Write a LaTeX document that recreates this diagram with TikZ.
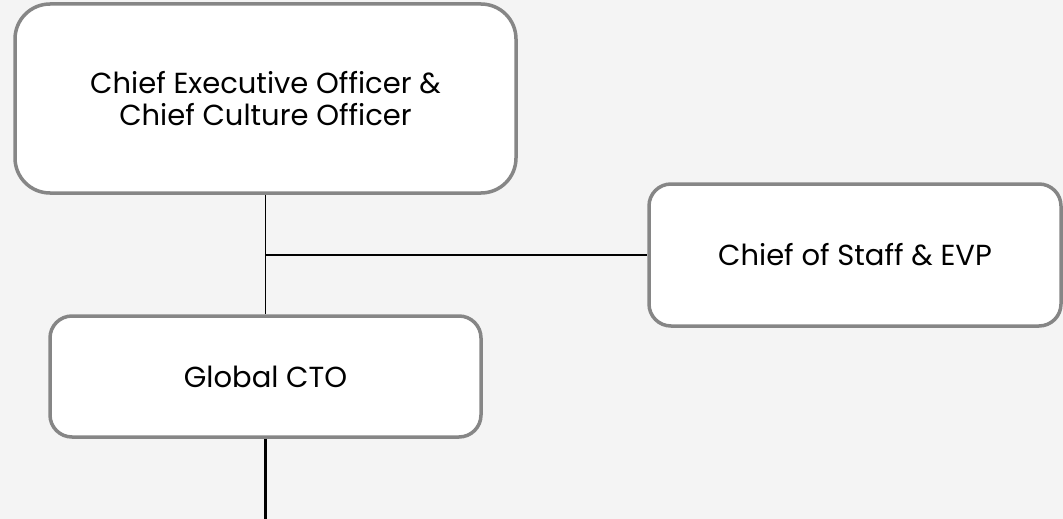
\documentclass[tikz,border=0pt]{standalone}
\usepackage{fontspec}
\setmainfont{Poppins}
\definecolor{pagebg}{HTML}{F4F4F4}
\definecolor{boxline}{HTML}{868686}

\begin{document}
\begin{tikzpicture}[x=1pt,y=-1pt,
    box/.style={draw=boxline, line width=3.5pt, fill=white, align=center,
      inner sep=0pt, font=\fontsize{29}{32}\selectfont},
    link/.style={draw=black, line width=1.8pt}
    ]
    \fill[pagebg] (0,0) rectangle (1063,519);
    \useasboundingbox (0,0) rectangle (1063,519);

    \node[box, rounded corners=35pt, minimum width=501pt, minimum height=189pt]
      (ceo) at (265.5,98.5) {Chief Executive Officer \&\\Chief Culture Officer};
    \node[box, rounded corners=22pt, minimum width=412pt, minimum height=142pt]
      (cos) at (855,255) {Chief of Staff \& EVP};
    \node[box, rounded corners=22pt, minimum width=431pt, minimum height=121pt]
      (cto) at (265.5,376.5) {Global CTO};
    \coordinate (cto-down) at (cto.south |- 0,519);

    \draw[link] (ceo.south) -- (cto.north);
    \draw[link] (ceo.south |- cos.west) -- (cos.west);
    \draw[link, line width=2.6pt] (cto.south) -- (cto-down);
    %
\end{tikzpicture}
\end{document}
